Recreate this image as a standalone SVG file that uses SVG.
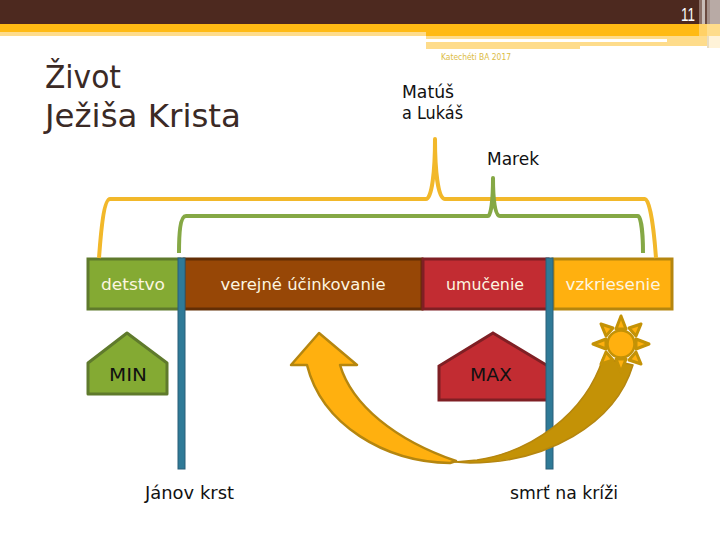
<svg xmlns="http://www.w3.org/2000/svg" width="720" height="540" viewBox="0 0 720 540">
<style>
text{font-family:"DejaVu Sans","Liberation Sans",sans-serif}
.w{fill:#fdf6e0;font-size:16px}
.k{fill:#111;font-size:17px}
.bar{fill:#2f7a97;stroke:#2a5f78;stroke-width:1}
.b{fill:none;stroke-width:4;stroke-linecap:butt;stroke-linejoin:round}
</style>
<rect width="720" height="540" fill="#fff"/>
<g id="header">
<rect width="720" height="24" fill="#4d291f"/>
<rect y="24" width="720" height="8" fill="#ffba14"/>
<rect y="32" width="426" height="4" fill="#fedc8b"/>
<rect x="426" y="32" width="294" height="4" fill="#ffba14"/>
<rect x="426" y="36" width="281" height="3" fill="#fedc8b"/>
<rect x="426" y="42" width="241" height="4" fill="#fedc8b"/>
<rect x="426" y="39" width="281" height="3" fill="#fff"/>
<rect x="667" y="39" width="40" height="7" fill="#fedc8b"/>
<rect x="426" y="46" width="154" height="3" fill="#fedc8b"/>
<rect x="699" y="0" width="3" height="24" fill="#8a6f66"/>
<rect x="702" y="0" width="3" height="24" fill="#c9bdb8"/>
<rect x="705" y="0" width="2" height="24" fill="#6a4a40"/>
<rect x="707" y="0" width="3" height="24" fill="#a3908a"/>
<rect x="710" y="0" width="10" height="24" fill="#b8aaa5"/>
<rect x="699" y="24" width="8" height="12" fill="#ffd166"/>
<rect x="707" y="24" width="13" height="12" fill="#fedc8b"/>
<rect x="707" y="36" width="2" height="12" fill="#e8dcc0"/>
<rect x="709" y="36" width="11" height="12" fill="#fff3d8"/>
<text x="681" y="21" fill="#fff" style="font-family:'Liberation Sans',sans-serif;font-size:19px" textLength="14" lengthAdjust="spacingAndGlyphs">11</text>
<text x="441" y="60" fill="#dcbc45" style="font-size:8px" textLength="70" lengthAdjust="spacingAndGlyphs">Katechéti BA 2017</text>
</g>
<g id="title">
<text x="45" y="88" fill="#3b2a25" style="font-size:32px" textLength="76" lengthAdjust="spacingAndGlyphs">Život</text>
<text x="45" y="127" fill="#3b2a25" style="font-size:32px" textLength="196" lengthAdjust="spacingAndGlyphs">Ježiša Krista</text>
</g>
<g id="bar-detstvo"><rect x="88" y="259" width="92" height="50" fill="#84aa33" stroke="#5f7a2c" stroke-width="3"/><text class="w" x="133" y="290" text-anchor="middle" textLength="64" lengthAdjust="spacingAndGlyphs">detstvo</text></g>
<g id="bar-verejne"><rect x="184" y="259" width="238" height="50" fill="#974706" stroke="#632e05" stroke-width="3"/><text class="w" x="303" y="290" text-anchor="middle" textLength="165" lengthAdjust="spacingAndGlyphs">verejné účinkovanie</text></g>
<g id="bar-umucenie"><rect x="423" y="259" width="125" height="50" fill="#c22c32" stroke="#7f1f24" stroke-width="3"/><text class="w" x="485" y="290" text-anchor="middle" textLength="78" lengthAdjust="spacingAndGlyphs">umučenie</text></g>
<g id="bar-vzkriesenie"><rect x="553" y="259" width="119" height="50" fill="#ffb00f" stroke="#b5860f" stroke-width="3"/><text class="w" x="613" y="290" text-anchor="middle" textLength="95" lengthAdjust="spacingAndGlyphs">vzkriesenie</text></g>
<g id="min"><path d="M127 333 L167 363 V394 H88 V363 Z" fill="#84aa33" stroke="#5f7a2c" stroke-width="3" stroke-linejoin="round"/><text class="k" x="128" y="381" text-anchor="middle" textLength="38" lengthAdjust="spacingAndGlyphs">MIN</text></g>
<g id="max"><path d="M493 333 L548 366 V400 H439 V366 Z" fill="#c22c32" stroke="#7f1f24" stroke-width="3"/><text class="k" x="491" y="381" text-anchor="middle" textLength="42" lengthAdjust="spacingAndGlyphs">MAX</text></g>
<g id="connectors">
<path class="b" stroke="#f2b82a" d="M99 258 C101 230 104 199 110 199 H426 C432 199 435 170 435 139 C435 170 438 199 445 199 H645 C650 199 654 230 656 258"/>
<path class="b" stroke="#85a845" d="M179 253 C179 235 180 216 186 216 H488 C491 216 493 200 493 178 C493 200 495 216 500 216 H638 C641 216 643 235 643 253"/>
</g>
<g id="line-krst"><rect class="bar" x="178" y="258" width="7" height="211"/></g>
<g id="line-kriz"><rect class="bar" x="546" y="258" width="7" height="211"/></g>
<g id="arc">
<path d="M455 462 L477 460 C530 452 585 415 603 358 L633 365 C615 425 545 463 470 463 Z" fill="#c49206" stroke="#b5860f" stroke-width="1.5" stroke-linejoin="round"/>
<path d="M319 333 L357 365 H340 C352 405 395 440 456 461 L450 463 C385 462 322 425 307 365 H291 Z" fill="#ffb00f" stroke="#b5860f" stroke-width="2.5" stroke-linejoin="round"/>
</g>
<g id="sun" fill="#ffb00f" stroke="#c49206" stroke-width="3" stroke-linejoin="round">
<path d="M621 316 L626 329 H616 Z"/><path d="M621 372 L626 359 H616 Z"/>
<path d="M593 344 L606 339 V349 Z"/><path d="M649 344 L636 339 V349 Z"/>
<path d="M601 324 L613 328 L606 336 Z"/><path d="M641 324 L629 328 L636 336 Z"/>
<path d="M601 364 L606 352 L613 360 Z"/><path d="M641 364 L636 352 L629 360 Z"/>
<circle cx="621" cy="344" r="13.5" stroke-width="2.5"/>
</g>
<g id="labels">
<text class="k" x="402" y="98" textLength="52" lengthAdjust="spacingAndGlyphs">Matúš</text>
<text class="k" x="402" y="119" textLength="61" lengthAdjust="spacingAndGlyphs">a Lukáš</text>
<text class="k" x="487" y="165" textLength="52" lengthAdjust="spacingAndGlyphs">Marek</text>
<text class="k" x="145" y="499" textLength="89" lengthAdjust="spacingAndGlyphs">Jánov krst</text>
<text class="k" x="510" y="499" textLength="108" lengthAdjust="spacingAndGlyphs">smrť na kríži</text>
</g>
</svg>
